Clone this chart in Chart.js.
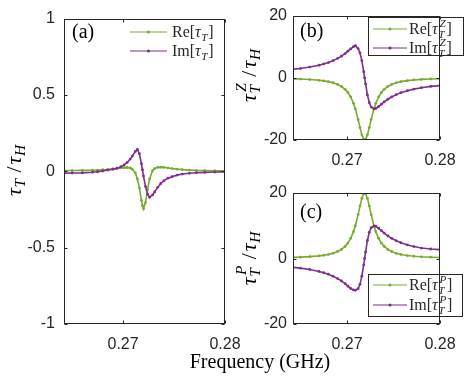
<!DOCTYPE html>
<html>
<head>
<meta charset="utf-8">
<script src="https://cdn.jsdelivr.net/npm/chart.js@4.4.0/dist/chart.umd.min.js"></script>
<style>
  html, body { margin: 0; padding: 0; background: #ffffff; }
  #wrap { position: relative; width: 469px; height: 383px; }
  #wrap canvas { position: absolute; left: 0; top: 0; }
</style>
</head>
<body>
<div id="wrap">
  <canvas id="chartA" width="469" height="383"></canvas>
  <canvas id="chartB" width="469" height="383"></canvas>
  <canvas id="chartC" width="469" height="383"></canvas>
</div>
<script>
// frequency samples (GHz), shared by all three panels
const freq = [0.2642, 0.2650, 0.2660, 0.2670, 0.2675, 0.2680, 0.2685, 0.2690, 0.2694, 0.2698,
              0.2701, 0.2704, 0.2707, 0.2709, 0.2712, 0.2714, 0.2716, 0.2718, 0.2719, 0.2720,
              0.2722, 0.2724, 0.2726, 0.2729, 0.2731, 0.2734, 0.2737, 0.2740, 0.2744, 0.2748,
              0.2753, 0.2758, 0.2765, 0.2772, 0.2780, 0.2790, 0.2800];

// (a) tau_T / tau_H
const reA = [0.005, 0.005, 0.006, 0.007, 0.008, 0.010, 0.012, 0.015, 0.018, 0.022,
             0.024, 0.025, 0.022, 0.014, -0.010, -0.050, -0.110, -0.190, -0.225, -0.246,
             -0.205, -0.120, -0.050, 0.005, 0.018, 0.026, 0.027, 0.026, 0.022, 0.018,
             0.014, 0.011, 0.008, 0.006, 0.005, 0.004, 0.004];
const imA = [-0.012, -0.011, -0.010, -0.006, -0.003, 0.002, 0.008, 0.014, 0.020, 0.030,
             0.042, 0.058, 0.080, 0.100, 0.130, 0.143, 0.115, 0.050, 0.010, -0.030,
             -0.100, -0.150, -0.170, -0.155, -0.135, -0.105, -0.080, -0.062, -0.045, -0.035,
             -0.025, -0.018, -0.013, -0.009, -0.007, -0.005, -0.004];

// (b) tau_T^Z / tau_H
const reB = [-0.33, -0.41, -0.56, -0.80, -0.98, -1.23, -1.59, -2.13, -2.76, -3.70,
             -4.72, -6.15, -8.20, -10.0, -13.42, -16.0, -18.35, -19.80, -20.0, -19.80,
             -18.35, -16.0, -13.42, -10.0, -8.20, -6.15, -4.72, -3.70, -2.76, -2.13,
             -1.59, -1.23, -0.90, -0.69, -0.52, -0.39, -0.30];
const imB = [2.80, 3.00, 3.45, 4.05, 4.45, 4.90, 5.50, 6.25, 6.95, 7.80,
             8.55, 9.30, 10.0, 10.3, 9.40, 8.0, 5.50, 1.98, 0, -1.98,
             -5.50, -8.0, -9.40, -10.0, -9.84, -9.23, -8.49, -7.76, -6.90, -6.16,
             -5.41, -4.81, -4.15, -3.64, -3.19, -2.76, -2.50];

// (c) tau_T^P / tau_H
const reC = [0.33, 0.41, 0.56, 0.80, 0.98, 1.23, 1.59, 2.13, 2.76, 3.70,
             4.72, 6.15, 8.20, 10.0, 13.42, 16.0, 18.35, 19.80, 20.0, 19.80,
             18.35, 16.0, 13.42, 10.0, 8.20, 6.15, 4.72, 3.70, 2.76, 2.13,
             1.59, 1.23, 0.90, 0.69, 0.52, 0.39, 0.30];
const imC = [-2.70, -2.95, -3.35, -3.95, -4.35, -4.80, -5.40, -6.15, -6.85, -7.70,
             -8.45, -9.15, -9.60, -9.70, -9.20, -7.90, -5.40, -1.95, 0, 1.98,
             5.50, 8.0, 9.40, 9.90, 9.84, 9.23, 8.49, 7.76, 6.90, 6.16,
             5.41, 4.81, 4.15, 3.64, 3.19, 2.90, 2.70];

const xTicks = [0.27, 0.28];
const yTicksA = [-1, -0.5, 0, 0.5, 1];
const yTicksBC = [-20, 0, 20];

const GREEN = '#77AC30';
const PURPLE = '#7E2F8E';
const AXIS = '#262626';
const SANS = '"Liberation Sans", Arial, sans-serif';
const SERIF = '"Liberation Serif", "Times New Roman", serif';

// runs: {t, up} plain text (italic unless up), or {sub, sup} scripts
function drawMath(ctx, runs, x, y, size, doDraw) {
    let cx = x;
    for (const r of runs) {
        if (r.t !== undefined) {
            ctx.font = (r.up ? '' : 'italic ') + size + 'px ' + SERIF;
            if (doDraw) ctx.fillText(r.t, cx, y);
            cx += ctx.measureText(r.t).width + (r.up ? 0 : size * 0.03) + (r.gap || 0);
        } else {
            const s = size * 0.7;
            ctx.font = 'italic ' + s + 'px ' + SERIF;
            let w = 0;
            if (r.sub) {
                if (doDraw) ctx.fillText(r.sub, cx, y + size * 0.22);
                w = Math.max(w, ctx.measureText(r.sub).width);
            }
            if (r.sup) {
                if (doDraw) ctx.fillText(r.sup, cx + size * 0.08, y - size * 0.42);
                w = Math.max(w, ctx.measureText(r.sup).width + size * 0.08);
            }
            cx += w + size * 0.04;
        }
    }
    return cx - x;
}

const panelDeco = {
    id: 'panelDeco',
    afterDraw(chart, args, o) {
        const ctx = chart.ctx;
        const a = chart.chartArea;
        const xs = chart.scales.x, ys = chart.scales.y;
        ctx.save();
        ctx.textAlign = 'left';
        ctx.textBaseline = 'alphabetic';

        // legend first (it sits over the curves but under the box)
        if (o.legend) {
            const lg = o.legend;
            if (lg.box) {
                ctx.fillStyle = '#ffffff';
                ctx.fillRect(lg.box[0], lg.box[1], lg.box[2] - lg.box[0], lg.box[3] - lg.box[1]);
                ctx.strokeStyle = AXIS;
                ctx.lineWidth = 1;
                ctx.strokeRect(lg.box[0] + 0.5, lg.box[1] + 0.5, lg.box[2] - lg.box[0], lg.box[3] - lg.box[1]);
            }
            lg.items.forEach((it, i) => {
                const yy = lg.rows[i];
                ctx.strokeStyle = it.color;
                ctx.lineWidth = 1;
                ctx.beginPath();
                ctx.moveTo(lg.x0, yy);
                ctx.lineTo(lg.x1, yy);
                ctx.stroke();
                ctx.fillStyle = it.color;
                ctx.beginPath();
                ctx.arc((lg.x0 + lg.x1) / 2, yy, 1.6, 0, Math.PI * 2);
                ctx.fill();
                ctx.fillStyle = AXIS;
                drawMath(ctx, it.runs, lg.tx, yy + 5, lg.size, true);
            });
        }

        // axes box with inward ticks
        const L = Math.round(a.left) + 0.5, R = Math.round(a.right) - 0.5;
        const T = Math.round(a.top) + 0.5, B = Math.round(a.bottom) - 0.5;
        ctx.strokeStyle = AXIS;
        ctx.lineWidth = 1;
        ctx.strokeRect(L, T, R - L, B - T);
        ctx.beginPath();
        xs.ticks.forEach(t => {
            const px = Math.round(xs.getPixelForValue(t.value)) + 0.5;
            ctx.moveTo(px, B); ctx.lineTo(px, B - 3);
            ctx.moveTo(px, T); ctx.lineTo(px, T + 3);
        });
        ys.ticks.forEach(t => {
            const py = Math.round(ys.getPixelForValue(t.value)) + 0.5;
            ctx.moveTo(L, py); ctx.lineTo(L + 3, py);
            ctx.moveTo(R, py); ctx.lineTo(R - 3, py);
        });
        ctx.stroke();

        // panel letter
        ctx.fillStyle = '#000000';
        ctx.font = '20px ' + SERIF;
        ctx.fillText(o.tag, o.tagX, o.tagY);

        // rotated y title
        if (o.yTitle) {
            const w = drawMath(ctx, o.yTitle.runs, 0, 0, o.yTitle.size, false);
            ctx.save();
            ctx.translate(o.yTitle.x, o.yTitle.y);
            ctx.rotate(-Math.PI / 2);
            drawMath(ctx, o.yTitle.runs, -w / 2, o.yTitle.size * 0.25, o.yTitle.size, true);
            ctx.restore();
        }

        // shared x title
        if (o.xTitle) {
            ctx.font = '20px ' + SERIF;
            ctx.textAlign = 'center';
            ctx.fillText(o.xTitle.text, o.xTitle.x, o.xTitle.y);
        }
        ctx.restore();
    }
};

function series(ys) {
    return freq.map((f, i) => ({ x: f, y: ys[i] }));
}

function makePanel(id, re, im, yTicks, box, deco) {
    return new Chart(document.getElementById(id), {
        type: 'line',
        data: {
            datasets: [
                {
                    label: 'Im',
                    data: series(im),
                    borderColor: PURPLE,
                    backgroundColor: PURPLE,
                    borderWidth: 1.6,
                    pointRadius: 1.4,
                    pointBorderWidth: 0,
                    tension: 0
                },
                {
                    label: 'Re',
                    data: series(re),
                    borderColor: GREEN,
                    backgroundColor: GREEN,
                    borderWidth: 1.6,
                    pointRadius: 1.4,
                    pointBorderWidth: 0,
                    tension: 0
                }
            ]
        },
        options: {
            responsive: false,
            animation: false,
            events: [],
            layout: { padding: { left: 0, top: box.top, right: 469 - box.right, bottom: 383 - box.bottom - 30 } },
            plugins: {
                legend: { display: false },
                tooltip: { enabled: false },
                panelDeco: deco
            },
            scales: {
                x: {
                    type: 'linear',
                    min: 0.2642,
                    max: 0.28,
                    grid: { display: false, drawTicks: false },
                    border: { display: false },
                    ticks: {
                        color: AXIS,
                        font: { family: SANS, size: 16 },
                        padding: 11,
                        autoSkip: false,
                        maxRotation: 0,
                        callback: v => String(v)
                    },
                    afterBuildTicks: s => { s.ticks = xTicks.map(v => ({ value: v })); },
                    afterFit: s => { s.height = 30; }
                },
                y: {
                    type: 'linear',
                    min: yTicks[0],
                    max: yTicks[yTicks.length - 1],
                    grid: { display: false, drawTicks: false },
                    border: { display: false },
                    ticks: {
                        color: AXIS,
                        font: { family: SANS, size: 16 },
                        padding: box.tickPad,
                        autoSkip: false,
                        callback: v => String(v)
                    },
                    afterBuildTicks: s => { s.ticks = yTicks.map(v => ({ value: v })); },
                    afterFit: s => { s.width = box.left; }
                }
            }
        },
        plugins: [panelDeco]
    });
}

const tau = { t: 'τ' };
const slash = { t: '/', up: true, gap: 2 };

makePanel('chartA', reA, imA, yTicksA,
    { left: 64, right: 225, top: 10, bottom: 324, tickPad: 9 },
    {
        tag: '(a)', tagX: 72, tagY: 38,
        legend: {
            box: null, x0: 130, x1: 167, tx: 172, size: 16, rows: [32, 51],
            items: [
                { color: GREEN, runs: [{ t: 'Re[', up: true }, tau, { sub: 'T' }, { t: ']', up: true }] },
                { color: PURPLE, runs: [{ t: 'Im[', up: true }, tau, { sub: 'T' }, { t: ']', up: true }] }
            ]
        },
        yTitle: { x: 15, y: 170, size: 22, runs: [tau, { sub: 'T' }, { t: ' ', up: true }, slash, tau, { sub: 'H' }] },
        xTitle: { text: 'Frequency (GHz)', x: 260, y: 368 }
    });

makePanel('chartB', reB, imB, yTicksBC,
    { left: 293, right: 440, top: 11, bottom: 140, tickPad: 6 },
    {
        tag: '(b)', tagX: 300, tagY: 37,
        legend: {
            box: [368, 17, 463, 55], x0: 373, x1: 407, tx: 409, size: 16, rows: [29, 48],
            items: [
                { color: GREEN, runs: [{ t: 'Re[', up: true }, tau, { sub: 'T', sup: 'Z' }, { t: ']', up: true }] },
                { color: PURPLE, runs: [{ t: 'Im[', up: true }, tau, { sub: 'T', sup: 'Z' }, { t: ']', up: true }] }
            ]
        },
        yTitle: { x: 250, y: 75, size: 22, runs: [tau, { sub: 'T', sup: 'Z' }, { t: ' ', up: true }, slash, tau, { sub: 'H' }] }
    });

makePanel('chartC', reC, imC, yTicksBC,
    { left: 293, right: 440, top: 193, bottom: 324, tickPad: 6 },
    {
        tag: '(c)', tagX: 300, tagY: 218,
        legend: {
            box: [368, 274, 462, 316], x0: 373, x1: 407, tx: 409, size: 16, rows: [285, 305],
            items: [
                { color: GREEN, runs: [{ t: 'Re[', up: true }, tau, { sub: 'T', sup: 'P' }, { t: ']', up: true }] },
                { color: PURPLE, runs: [{ t: 'Im[', up: true }, tau, { sub: 'T', sup: 'P' }, { t: ']', up: true }] }
            ]
        },
        yTitle: { x: 250, y: 258, size: 22, runs: [tau, { sub: 'T', sup: 'P' }, { t: ' ', up: true }, slash, tau, { sub: 'H' }] }
    });
</script>
</body>
</html>
